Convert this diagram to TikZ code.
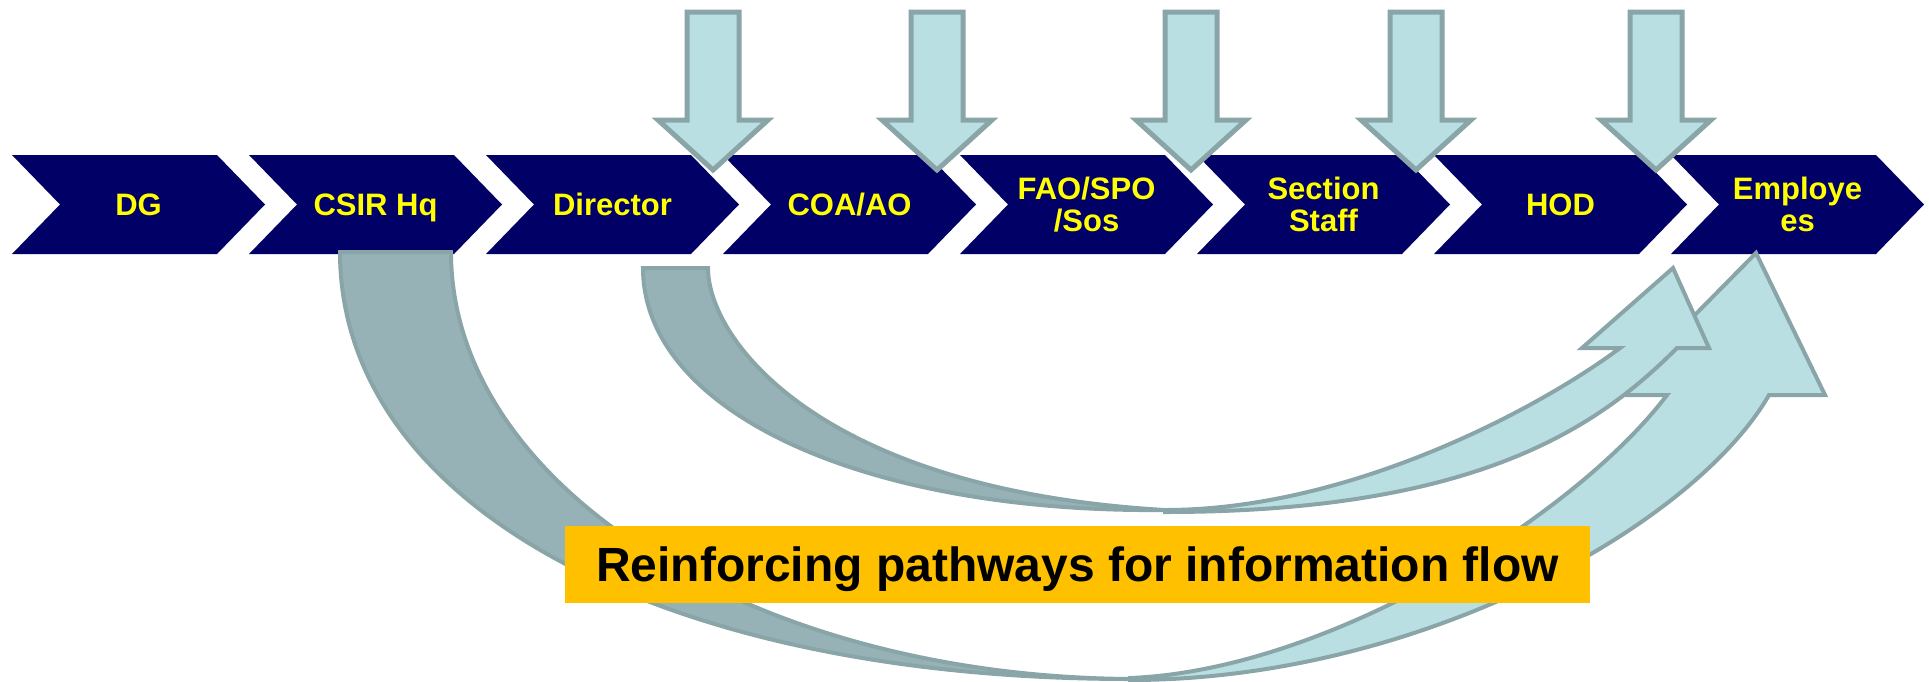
\documentclass[tikz,border=0pt]{standalone}
\usepackage{fontspec}
\setmainfont{Liberation Sans}
\definecolor{navy}{HTML}{000066}
\definecolor{chevtext}{HTML}{FFFF00}
\definecolor{lightfill}{HTML}{B9DFE3}
\definecolor{darkfill}{HTML}{97B2B6}
\definecolor{edgecol}{HTML}{8AA5A8}
\definecolor{bannercol}{HTML}{FFC000}
\begin{document}
\begin{tikzpicture}[x=0.5pt,y=-0.5pt,
  chev/.style={fill=navy},
  chevlabel/.style={text=chevtext,font=\bfseries\fontsize{15.5}{16}\selectfont,align=center,inner sep=0pt,text depth=0pt},
  downarrow/.style={fill=lightfill,draw=edgecol,line width=2.5pt,line join=miter},
  backband/.style={fill=darkfill,draw=edgecol,line width=2pt,line join=miter},
  frontband/.style={fill=lightfill,draw=edgecol,line width=2pt,line join=miter},
  bannerbox/.style={fill=bannercol,inner sep=0pt,minimum width=512.5pt,minimum height=38.5pt,
    text height=17.2pt,text depth=0pt,font=\bfseries\fontsize{24}{28}\selectfont}
  ]
\useasboundingbox (0,0) rectangle (1929,681);

% chevrons
\foreach \t [count=\k from 0] in {DG,CSIR Hq,Director,COA/AO,FAO/SPO\\/Sos,Section\\Staff,HOD,Employe\\es} {
  \pgfmathsetmacro\xx{12+237*\k}
  \fill[chev] (\xx,155) -- ++(205,0) -- ++(48,49.5) -- ++(-48,49.5) -- ++(-205,0) -- ++(48,-49.5) -- cycle;
  \node[chevlabel] (c\k) at (\xx+126.5,204.5) {\t};
}

% down arrows
\foreach \cx [count=\k] in {713,937,1191,1416,1656} {
  \coordinate (d\k) at (\cx,170);
  \draw[downarrow] (\cx-26,12) -- (\cx+26,12) -- (\cx+26,120) -- (\cx+55,120) -- (d\k) -- (\cx-55,120) -- (\cx-26,120) -- cycle;
}

% big curved arrow (from CSIR Hq)
\coordinate (bigtail) at (395,252);
\coordinate (bigtip) at (1756,253);
\draw[backband] (340,252) -- (451,252) .. controls (451,487) and (755,678) .. (1135,679)
   .. controls (660,680) and (340,505) .. (340,252) -- cycle;
\draw[frontband] (1130,680) .. controls (1420,680) and (1694,525) .. (1769,395)
   -- (1825,395) -- (bigtip) -- (1616,395) -- (1667,395)
   .. controls (1576,515) and (1330,670) .. (1130,678) -- cycle;

% small curved arrow (from Director)
\coordinate (smalltail) at (675,268);
\coordinate (smalltip) at (1673,268);
\draw[backband] (643,268) -- (708,268) .. controls (708,340) and (820,490) .. (1165,510)
   .. controls (860,513) and (643,410) .. (643,268) -- cycle;
\draw[frontband] (1165,512) .. controls (1480,512) and (1600,425) .. (1677,348)
   -- (1709,348) -- (smalltip) -- (1582,348) -- (1620,348)
   .. controls (1540,408) and (1350,510) .. (1165,510) -- cycle;

% banner
\node[bannerbox] (banner) at (1077.5,564.5) {Reinforcing pathways for information flow};
\end{tikzpicture}
\end{document}
